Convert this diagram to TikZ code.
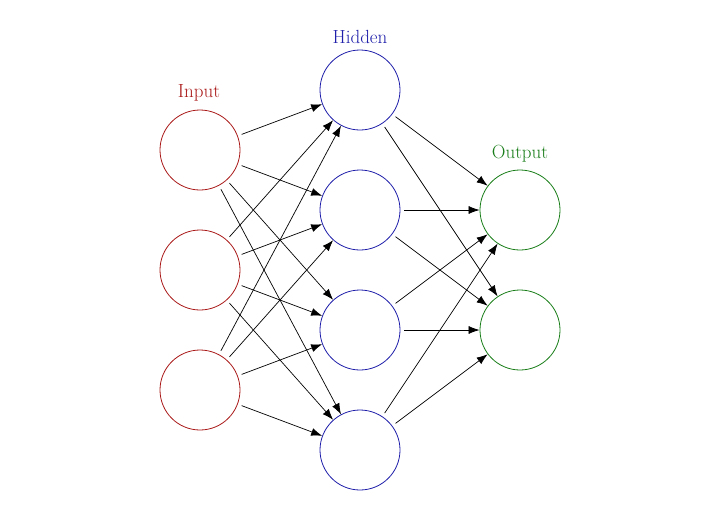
\documentclass[tikz,border=0pt]{standalone}
\usetikzlibrary{arrows.meta}
\definecolor{inred}{RGB}{170,25,25}
\definecolor{hidblue}{RGB}{30,30,170}
\definecolor{outgreen}{RGB}{25,125,25}
\begin{document}
\begin{tikzpicture}[x=1pt,y=-1pt,
  neuron/.style={circle,draw,line width=0.8pt,minimum size=80pt,inner sep=0pt},
  lab/.style={font=\fontsize{19}{22}\selectfont},
  conn/.style={-{Latex[length=11pt,width=8pt]},line width=0.7pt,shorten <=4pt}]
\useasboundingbox (0,0) rectangle (720,520);
\foreach \i/\y in {1/150,2/270,3/390} \node[neuron,draw=inred] (I\i) at (200,\y) {};
\foreach \i/\y in {1/90,2/210,3/330,4/450} \node[neuron,draw=hidblue] (H\i) at (360,\y) {};
\foreach \i/\y in {1/210,2/330} \node[neuron,draw=outgreen] (O\i) at (520,\y) {};
\node[lab,text=inred] (li) at (199,93) {Input};
\node[lab,text=hidblue] (lh) at (360,37) {Hidden};
\node[lab,text=outgreen] (lo) at (520,154) {Output};
\foreach \a in {1,2,3} \foreach \b in {1,2,3,4} \draw[conn] (I\a) -- (H\b);
\foreach \a in {1,2,3,4} \foreach \b in {1,2} \draw[conn] (H\a) -- (O\b);
\end{tikzpicture}
\end{document}
